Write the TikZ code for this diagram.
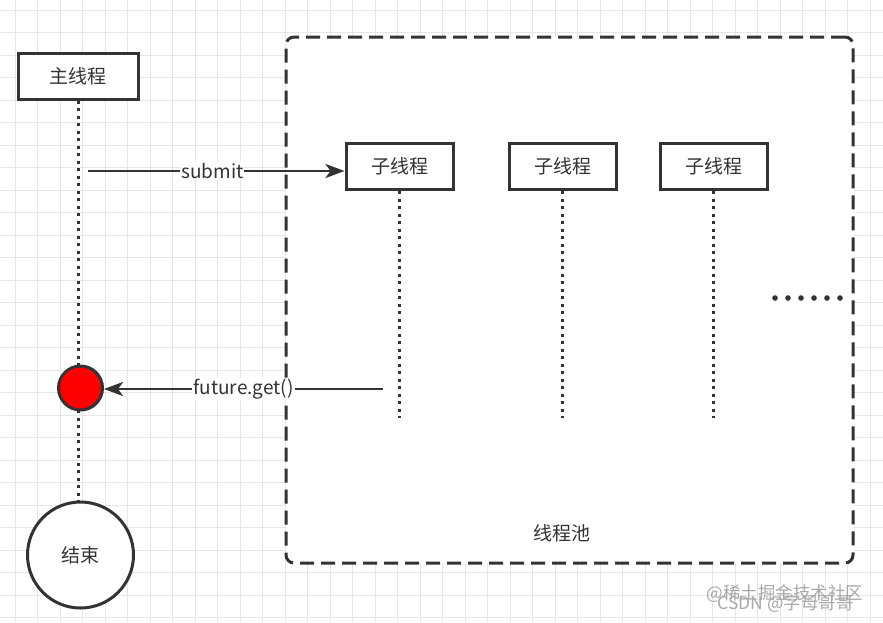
\documentclass[tikz,border=0pt]{standalone}
\usepackage{fontspec}
\setmainfont{Noto Sans CJK SC}
\usetikzlibrary{arrows.meta}
\definecolor{ink}{HTML}{333333}
\definecolor{gridc}{HTML}{E6E6E6}
\definecolor{wm}{HTML}{A8A8A8}
\begin{document}
\begin{tikzpicture}[x=1pt,y=-1pt,
  lbl/.style={font=\fontsize{19}{19}\selectfont, text=ink},
  box/.style={lbl, draw=ink, line width=3pt, fill=white, inner sep=0pt, minimum height=46pt},
  life/.style={draw=ink, line width=3pt, dash pattern=on 3pt off 4.5pt},
  arr/.style={draw=ink, line width=2.8pt, -{Stealth[length=19pt, width=14pt, inset=5pt]}},
  tag/.style={lbl, fill=white, inner sep=1pt},
  wmark/.style={font=\fontsize{17.5}{17.5}\selectfont, text=wm}
]
\useasboundingbox (0,0) rectangle (883,622);
\fill[white] (0,0) rectangle (883,622);
\foreach \i in {0,...,38} \draw[gridc, line width=1pt] (15+22.5*\i,0) -- (15+22.5*\i,622);
\foreach \j in {0,...,27} \draw[gridc, line width=1pt] (0,10+22.5*\j) -- (883,10+22.5*\j);

% thread pool
\node[draw=ink, line width=3pt, dash pattern=on 14pt off 7pt, rounded corners=8pt, fill=white,
      minimum width=567pt, minimum height=526pt, inner sep=0pt] (pool) at (569.5,300) {};
\node[lbl] (poollbl) at (562,533) {线程池};

% main thread
\node[box, minimum width=120pt] (main) at (78,76) {主线程};
\node[circle, fill=red, draw=ink, line width=3pt, minimum size=44pt, inner sep=0pt] (get) at (80.5,388) {};
\node[circle, lbl, draw=ink, line width=3pt, fill=white, minimum size=106pt, inner sep=0pt] (end) at (80.5,555) {结束};
\coordinate (m1) at (78,366);
\coordinate (m2) at (78,410);
\coordinate (m3) at (78,502);
\draw[life] (main.south) -- (m1);
\draw[life] (m2) -- (m3);

% sub threads
\node[box, minimum width=107pt] (sub1) at (399.5,166.5) {子线程};
\node[box, minimum width=107pt] (sub2) at (562.5,166.5) {子线程};
\node[box, minimum width=107pt] (sub3) at (713.5,166.5) {子线程};
\coordinate (e1) at (399.5,418);
\coordinate (e2) at (562.5,418);
\coordinate (e3) at (713.5,418);
\draw[life] (sub1.south) -- (e1);
\draw[life] (sub2.south) -- (e2);
\draw[life] (sub3.south) -- (e3);

% ellipsis dots
\foreach \k in {0,...,5} \fill[ink] (775+13*\k,298) circle (2.8pt);

% arrows
\coordinate (s0) at (88,171);
\draw[arr] (s0) -- (sub1.west |- s0) node[tag, pos=0.485] {submit};
\coordinate (f0) at (383,389);
\draw[arr] (f0) -- (get.east |- f0) node[tag, pos=0.5] {future.get()};

% watermark
\node[wmark, anchor=west] (wm1) at (703,594) {@稀土掘金技术社区};
\node[wmark, anchor=west] (wm2) at (714,604) {CSDN @字母哥哥};
\end{tikzpicture}
\end{document}
